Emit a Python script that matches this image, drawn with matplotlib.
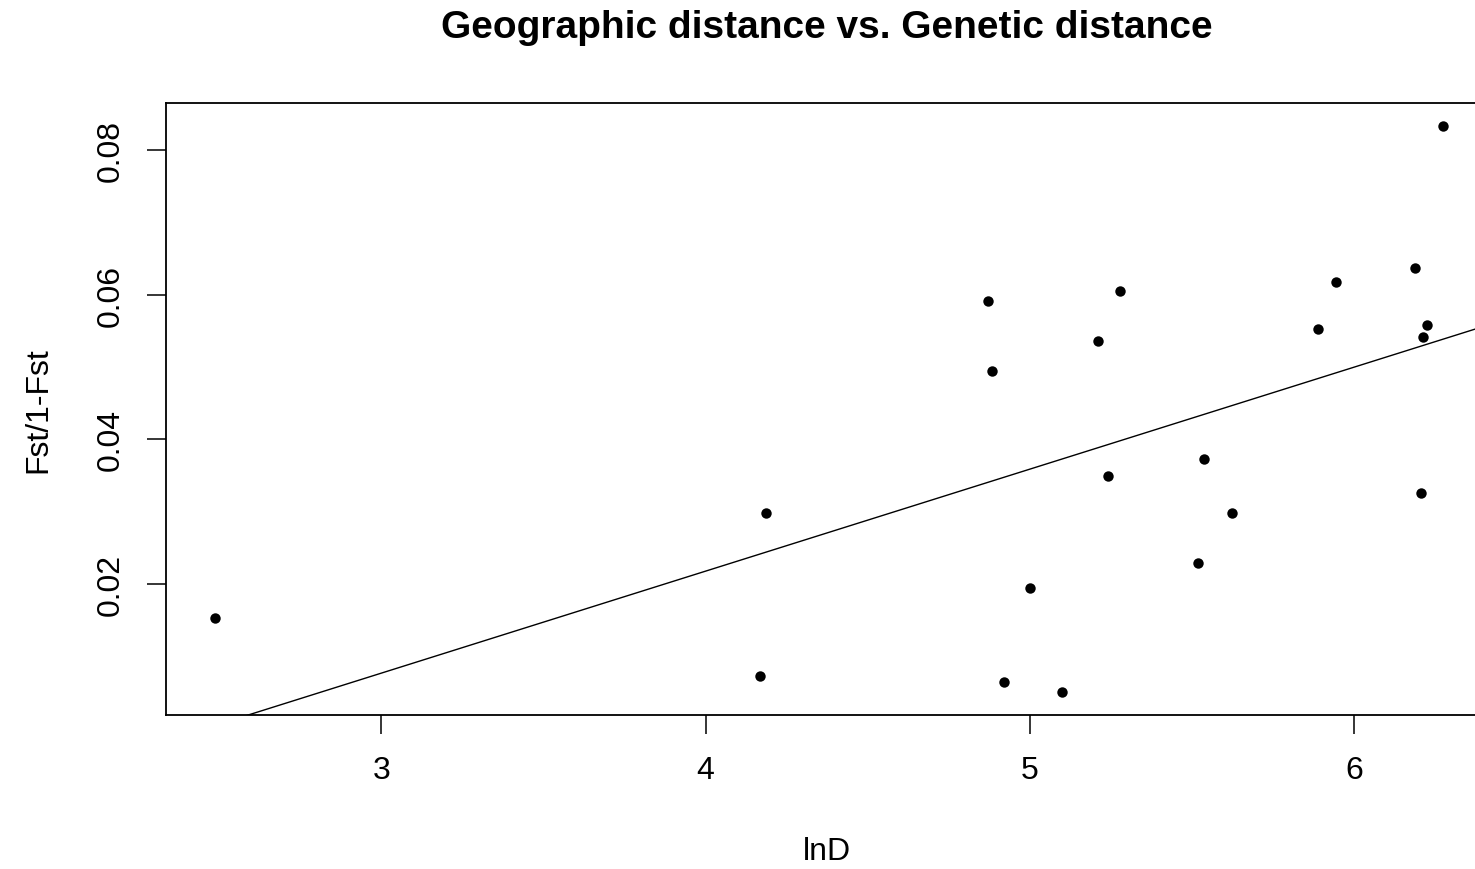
import numpy as np
import matplotlib
matplotlib.use("Agg")
import matplotlib.pyplot as plt

plt.rcParams['font.family'] = ['Liberation Sans', 'DejaVu Sans']

# Data
lnD = [2.487, 4.167, 4.186, 4.872, 4.884, 4.920, 5.001, 5.100, 5.211, 5.242,
       5.279, 5.520, 5.538, 5.624, 5.890, 5.945, 6.187, 6.205, 6.212, 6.225, 6.274]
fst = [0.01522, 0.00717, 0.02972, 0.05917, 0.04944, 0.00639, 0.01944, 0.00494,
       0.05361, 0.03494, 0.06056, 0.02278, 0.03722, 0.02972, 0.05529, 0.06168,
       0.06361, 0.03250, 0.05417, 0.05583, 0.08338]
x_ticks = [3, 4, 5, 6]
y_ticks = [0.02, 0.04, 0.06, 0.08]
y_tick_labels = ["0.02", "0.04", "0.06", "0.08"]
title = "Geographic distance vs. Genetic distance"
xlabel = "lnD"
ylabel = "Fst/1-Fst"

x = np.array(lnD)
y = np.array(fst)

W, H = 1475, 870
fig = plt.figure(figsize=(W / 100, H / 100), dpi=100)
# plot region in pixels (R base graphics layout; right side runs off the image)
left_px, right_px, top_px, bottom_px = 166, 1492, 104, 716
ax = fig.add_axes([left_px / W, 1 - bottom_px / H,
                   (right_px - left_px) / W, (bottom_px - top_px) / H])

# R-style 4% axis extension
xr = x.max() - x.min()
yr = y.max() - y.min()
ax.set_xlim(x.min() - 0.04 * xr, x.max() + 0.04 * xr)
ax.set_ylim(y.min() - 0.04 * yr, y.max() + 0.04 * yr)

ax.plot(x, y, 'o', color='black', markersize=7.5, markeredgewidth=0)

# abline(lm(y ~ x))
slope, intercept = np.polyfit(x, y, 1)
xl = np.array(ax.get_xlim())
ax.plot(xl, intercept + slope * xl, color='black', linewidth=1.0)

for s in ax.spines.values():
    s.set_linewidth(1.3)
    s.set_color('black')

ax.set_xticks(x_ticks)
ax.set_yticks(y_ticks)
ax.set_yticklabels(y_tick_labels)
ax.tick_params(axis='both', direction='out', length=14, width=1.1,
               labelsize=23, pad=15, colors='black')
ax.tick_params(axis='y', labelrotation=90)
for lab in ax.get_yticklabels():
    lab.set_va('center')

fig.text(827 / W, 1 - 28 / H, title, ha='center', va='center',
         fontsize=28, fontweight='bold')
fig.text(827 / W, 1 - 852 / H, xlabel, ha='center', va='center', fontsize=23)
fig.text(38 / W, 1 - 410 / H, ylabel, ha='center', va='center', fontsize=23,
         rotation=90)

fig.savefig("out.png", dpi=100)
